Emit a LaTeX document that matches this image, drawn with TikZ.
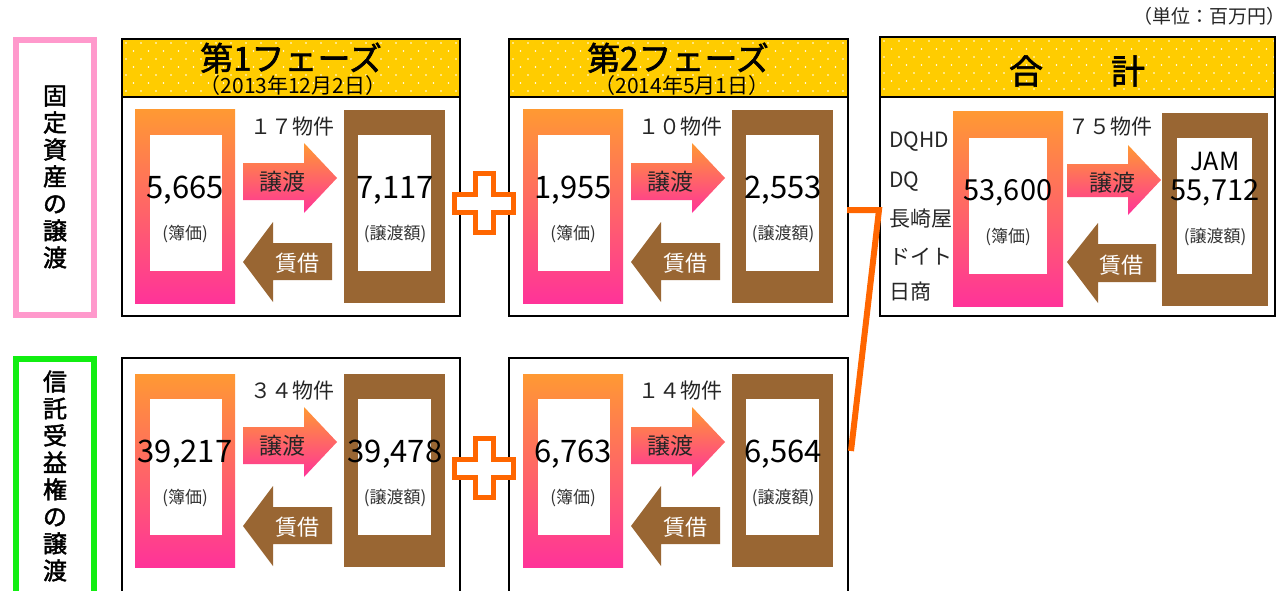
\documentclass[tikz,border=0pt]{standalone}
\usepackage{fontspec}
\setmainfont{Noto Sans CJK JP}
\newfontfamily\jpbold[FakeBold=1.8]{Noto Sans CJK JP}

\definecolor{hdryellow}{HTML}{FFCC00}
\definecolor{bookorange}{HTML}{FF9933}
\definecolor{bookpink}{HTML}{FF3399}
\definecolor{jambrown}{HTML}{996633}
\definecolor{plusorange}{HTML}{FF6600}
\definecolor{labelpink}{HTML}{FF99CC}
\definecolor{labelgreen}{HTML}{11EE11}

\tikzset{
  panel/.style={draw=black, line width=2.5pt},
  bookbox/.style={top color=bookorange, bottom color=bookpink},
  sendarrow/.style={top color=bookorange, bottom color=bookpink},
  value/.style={font=\fontsize{31}{31}\selectfont, inner sep=0pt},
  note/.style={font=\fontsize{17}{17}\selectfont, text=black!80, inner sep=0pt},
  count/.style={font=\fontsize{21}{21}\selectfont, text=black!85, inner sep=0pt},
  sendtext/.style={font=\fontsize{23}{23}\selectfont, text=black!85, inner sep=0pt},
  leasetext/.style={font=\fontsize{22}{22}\selectfont, text=white, inner sep=0pt},
  title/.style={font=\jpbold\fontsize{33}{33}\selectfont, inner sep=0pt},
  subtitle/.style={font=\fontsize{21}{21}\selectfont, inner sep=0pt},
  listtext/.style={font=\fontsize{21}{21}\selectfont, text=black!85, anchor=west, inner sep=0pt},
  plussign/.style={draw=plusorange, line width=5pt, fill=white, line join=miter},
  bracket/.style={draw=plusorange, line width=6pt},
  sideframe/.style={line width=6pt, fill=white},
  sidetext/.style={font=\jpbold\fontsize{24}{27}\selectfont, align=center, inner sep=0pt},
  unit/.style={font=\fontsize{19}{19}\selectfont, text=black!85, anchor=east, inner sep=0pt},
}

% yellow dotted header strip
\newcommand{\phasehead}[4]{%
  \fill[hdryellow] (#1,#2) rectangle (#3,#4);
  \begin{scope}
    \clip (#1,#2) rectangle (#3,#4);
    \foreach \r in {0,...,7}
      \foreach \c in {0,...,27}
        \fill[white] ({#1+4+15*\c+7.5*mod(\r,2)},{#2+4+8*\r}) circle (0.9pt);
  \end{scope}
  \draw[panel] (#1,#2) rectangle (#3,#4);}

% book value box, arrows and transfer value box
\newcommand{\deal}[6]{%
  \begin{scope}[shift={(#2,#3)}]
    \shade[bookbox] (0,0) rectangle (100,193);
    \fill[white] (15,25) rectangle (87,161);
    \fill[jambrown] (209,0) rectangle (310,193);
    \fill[white] (223,25) rectangle (296,161);
    \shade[sendarrow] (108,53) -- (169,53) -- (169,33) -- (202,68) -- (169,103) -- (169,90) -- (108,90) -- cycle;
    \fill[jambrown] (197,133) -- (138,133) -- (138,112) -- (108,152) -- (138,192) -- (138,170) -- (197,170) -- cycle;
    \node[count] (#1-count) at (157,17) {#4};
    \node[sendtext] (#1-send) at (147,72) {譲渡};
    \node[leasetext] (#1-lease) at (162,153) {賃借};
    \node[value] (#1-book) at (50,80) {#5};
    \node[note] (#1-booknote) at (50,124) {(簿価)};
    \node[value] (#1-price) at (260,80) {#6};
    \node[note] (#1-pricenote) at (260,124) {(譲渡額)};
  \end{scope}}

\newcommand{\plusmark}[2]{%
  \draw[plussign] (#1-9,#2-29.5) -- (#1+9,#2-29.5) -- (#1+9,#2-9) -- (#1+29.5,#2-9)
    -- (#1+29.5,#2+9) -- (#1+9,#2+9) -- (#1+9,#2+29.5) -- (#1-9,#2+29.5)
    -- (#1-9,#2+9) -- (#1-29.5,#2+9) -- (#1-29.5,#2-9) -- (#1-9,#2-9) -- cycle;}

\begin{document}
\begin{tikzpicture}[x=1pt,y=-1pt]
\useasboundingbox (0,0) rectangle (1287,591);

\node[unit] (unit) at (1286,16) {（単位：百万円）};

% side labels
\draw[sideframe, draw=labelpink] (16,40) rectangle (94,315);
\node[sidetext] (fixed) at (55,177) {固\\定\\資\\産\\の\\譲\\渡};
\draw[sideframe, draw=labelgreen] (16,359) rectangle (94,620);
\node[sidetext] (trust) at (55,476) {信\\託\\受\\益\\権\\の\\譲\\渡};

% phase 1
\draw[panel, fill=white] (122,39) rectangle (460,316);
\phasehead{122}{39}{460}{97}
\node[title] (ph1) at (291,58) {第1フェーズ};
\node[subtitle] (ph1date) at (293,86) {（2013年12月2日）};
\deal{a}{135}{110}{１７物件}{5,665}{7,117}

\draw[panel, fill=white] (122,358) rectangle (460,620);
\deal{b}{135}{374}{３４物件}{39,217}{39,478}

% phase 2
\draw[panel, fill=white] (509,39) rectangle (848,316);
\phasehead{509}{39}{848}{97}
\node[title] (ph2) at (678,58) {第2フェーズ};
\node[subtitle] (ph2date) at (682,86) {（2014年5月1日）};
\deal{c}{523}{110}{１０物件}{1,955}{2,553}

\draw[panel, fill=white] (509,358) rectangle (848,620);
\deal{d}{523}{374}{１４物件}{6,763}{6,564}

\plusmark{484}{203}
\plusmark{484}{468}

% total
\draw[panel, fill=white] (880,37) rectangle (1275,316);
\phasehead{880}{37}{1275}{97}
\node[title, font=\jpbold\fontsize{34}{34}\selectfont] (sum) at (1077,71) {合　　計};

\shade[bookbox] (953,112) rectangle (1063,306);
\fill[white] (969,138) rectangle (1047,274);
\fill[jambrown] (1162,113) rectangle (1268,306);
\fill[white] (1177,138) rectangle (1252,274);
\shade[sendarrow] (1067,164) -- (1128,164) -- (1128,145) -- (1161,180) -- (1128,215) -- (1128,197) -- (1067,197) -- cycle;
\fill[jambrown] (1156,244) -- (1098,244) -- (1098,223) -- (1067,262) -- (1098,303) -- (1098,282) -- (1156,282) -- cycle;

\node[count] (tcount) at (1110,127) {７５物件};
\node[sendtext] (tsend) at (1112,183) {譲渡};
\node[leasetext] (tlease) at (1121,265) {賃借};
\node[value, font=\fontsize{29}{29}\selectfont] (tbook) at (1008,193) {53,600};
\node[note] (tbooknote) at (1008,237) {(簿価)};
\node[value, font=\fontsize{25}{25}\selectfont] (jam) at (1215,161) {JAM};
\node[value, font=\fontsize{29}{29}\selectfont] (tprice) at (1215,193) {55,712};
\node[note] (tpricenote) at (1215,237) {(譲渡額)};

\node[listtext] (dqhd) at (889,142) {DQHD};
\node[listtext] (dq) at (889,182) {DQ};
\node[listtext] (nagasakiya) at (889,219) {長崎屋};
\node[listtext] (doit) at (889,257) {ドイト};
\node[listtext] (nissho) at (889,292) {日商};

% bracket joining both phases to the total
\coordinate (brktop) at (847,210);
\coordinate (brkjoin) at (879,210);
\coordinate (brkbot) at (851,451);
\draw[bracket] (brktop) -- (brkjoin) -- (brkbot);
\end{tikzpicture}
\end{document}
